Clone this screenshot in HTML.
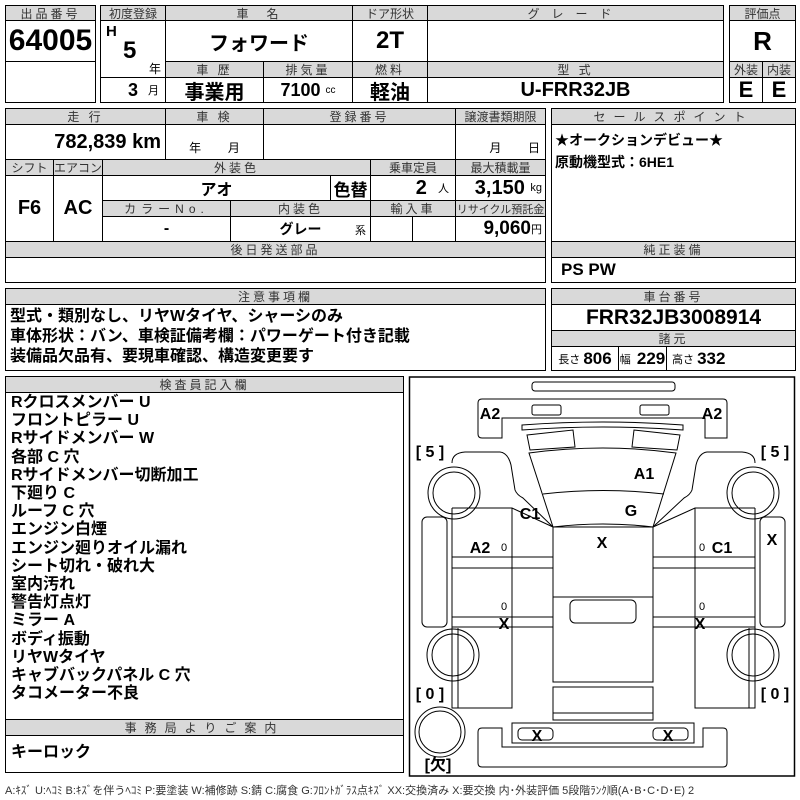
<!DOCTYPE html>
<html><head><meta charset="utf-8"><style>
body{margin:0;width:800px;height:800px;background:#fff;position:relative;overflow:hidden;font-family:"Liberation Sans","Noto Sans CJK JP",sans-serif;}
.c{position:absolute;box-sizing:border-box;border:1px solid #000;display:flex;align-items:center;justify-content:center;font-weight:bold;color:#000;white-space:nowrap;}
.h{background:#d9d9d9;font-weight:normal;font-size:12px;color:#333;letter-spacing:3px;}
.v{font-size:20px;}
.t{position:absolute;white-space:nowrap;font-weight:bold;}
</style></head><body>
<div class="c h" style="left:5px;top:5px;width:91px;height:16px">出品番号</div>
<div class="c" style="left:5px;top:20px;width:91px;height:42px;font-size:30px">64005</div>
<div class="c" style="left:5px;top:61px;width:91px;height:42px"></div>
<div class="c h" style="left:100px;top:5px;width:66px;height:16px;letter-spacing:0">初度登録</div>
<div class="c h" style="left:165px;top:5px;width:188px;height:16px">車　名</div>
<div class="c h" style="left:352px;top:5px;width:76px;height:16px;letter-spacing:0">ドア形状</div>
<div class="c h" style="left:427px;top:5px;width:297px;height:16px;letter-spacing:12px">グレード</div>
<div class="c" style="left:100px;top:20px;width:66px;height:58px"></div>
<div class="t" style="left:106px;top:23px;font-size:15px">H</div>
<div class="t" style="left:123px;top:37px;font-size:24px">5</div>
<div class="t" style="left:149px;top:60px;font-size:12px;font-weight:normal">年</div>
<div class="c v" style="left:165px;top:20px;width:188px;height:42px">フォワード</div>
<div class="c" style="left:352px;top:20px;width:76px;height:42px;font-size:24px">2T</div>
<div class="c" style="left:427px;top:20px;width:297px;height:42px"></div>
<div class="c h" style="left:165px;top:61px;width:99px;height:17px">車 歴</div>
<div class="c h" style="left:263px;top:61px;width:90px;height:17px">排気量</div>
<div class="c h" style="left:352px;top:61px;width:76px;height:17px">燃料</div>
<div class="c h" style="left:427px;top:61px;width:297px;height:17px">型 式</div>
<div class="c" style="left:100px;top:77px;width:66px;height:26px;font-size:18px;justify-content:flex-end;padding-right:6px">3&nbsp;&nbsp;<span style="font-size:11px;font-weight:normal">月</span></div>
<div class="c v" style="left:165px;top:77px;width:99px;height:26px">事業用</div>
<div class="c" style="left:263px;top:77px;width:90px;height:26px;font-size:18px">7100&nbsp;<span style="font-size:10px;font-weight:normal">cc</span></div>
<div class="c v" style="left:352px;top:77px;width:76px;height:26px">軽油</div>
<div class="c v" style="left:427px;top:77px;width:297px;height:26px">U-FRR32JB</div>
<div class="c h" style="left:729px;top:5px;width:67px;height:16px;letter-spacing:0">評価点</div>
<div class="c" style="left:729px;top:20px;width:67px;height:42px;font-size:26px">R</div>
<div class="c h" style="left:729px;top:61px;width:34px;height:17px;letter-spacing:0">外装</div>
<div class="c h" style="left:762px;top:61px;width:34px;height:17px;letter-spacing:0">内装</div>
<div class="c" style="left:729px;top:77px;width:34px;height:26px;font-size:22px">E</div>
<div class="c" style="left:762px;top:77px;width:34px;height:26px;font-size:22px">E</div>
<div class="c h" style="left:5px;top:108px;width:161px;height:17px">走 行</div>
<div class="c h" style="left:165px;top:108px;width:99px;height:17px">車 検</div>
<div class="c h" style="left:263px;top:108px;width:193px;height:17px">登録番号</div>
<div class="c h" style="left:455px;top:108px;width:91px;height:17px;letter-spacing:0">譲渡書類期限</div>
<div class="c" style="left:5px;top:124px;width:161px;height:36px;font-size:20px;justify-content:flex-end;padding-right:4px">782,839 km</div>
<div class="c" style="left:165px;top:124px;width:99px;height:36px;font-weight:normal;font-size:12px;align-items:flex-end;padding-bottom:3px">年&nbsp;&nbsp;&nbsp;&nbsp;&nbsp;&nbsp;&nbsp;&nbsp;月</div>
<div class="c" style="left:263px;top:124px;width:193px;height:36px"></div>
<div class="c" style="left:455px;top:124px;width:91px;height:36px;font-weight:normal;font-size:12px;align-items:flex-end;padding-bottom:3px;justify-content:flex-end;padding-right:5px">月&nbsp;&nbsp;&nbsp;&nbsp;&nbsp;&nbsp;&nbsp;&nbsp;日</div>
<div class="c h" style="left:5px;top:159px;width:49px;height:17px;letter-spacing:0">シフト</div>
<div class="c h" style="left:53px;top:159px;width:50px;height:17px;letter-spacing:0">エアコン</div>
<div class="c h" style="left:102px;top:159px;width:269px;height:17px">外装色</div>
<div class="c h" style="left:370px;top:159px;width:86px;height:17px;letter-spacing:0">乗車定員</div>
<div class="c h" style="left:455px;top:159px;width:91px;height:17px;letter-spacing:0">最大積載量</div>
<div class="c v" style="left:5px;top:175px;width:49px;height:67px">F6</div>
<div class="c v" style="left:53px;top:175px;width:50px;height:67px">AC</div>
<div class="c" style="left:102px;top:175px;width:229px;height:26px;font-size:16px">アオ</div>
<div class="c" style="left:330px;top:175px;width:41px;height:26px;font-size:17px">色替</div>
<div class="c" style="left:370px;top:175px;width:86px;height:26px;font-size:20px;justify-content:flex-end;padding-right:6px">2&nbsp;&nbsp;<span style="font-size:11px;font-weight:normal">人</span></div>
<div class="c" style="left:455px;top:175px;width:91px;height:26px;font-size:20px;justify-content:flex-end;padding-right:3px">3,150&nbsp;<span style="font-size:11px;font-weight:normal">kg</span></div>
<div class="c h" style="left:102px;top:200px;width:129px;height:17px;letter-spacing:5px">カラーNo.</div>
<div class="c h" style="left:230px;top:200px;width:141px;height:17px">内装色</div>
<div class="c h" style="left:370px;top:200px;width:86px;height:17px">輸入車</div>
<div class="c h" style="left:455px;top:200px;width:91px;height:17px;letter-spacing:0;font-size:11px">リサイクル預託金</div>
<div class="c" style="left:102px;top:216px;width:129px;height:26px;font-size:16px">-</div>
<div class="c" style="left:230px;top:216px;width:141px;height:26px;font-size:14px">グレー<span style="position:absolute;right:4px;bottom:3px;font-size:11px;font-weight:normal">系</span></div>
<div class="c" style="left:370px;top:216px;width:43px;height:26px"></div>
<div class="c" style="left:412px;top:216px;width:44px;height:26px"></div>
<div class="c" style="left:455px;top:216px;width:91px;height:26px;font-size:19px;justify-content:flex-end;padding-right:3px">9,060<span style="font-size:11px;font-weight:normal">円</span></div>
<div class="c h" style="left:5px;top:241px;width:541px;height:17px">後日発送部品</div>
<div class="c" style="left:5px;top:257px;width:541px;height:26px"></div>
<div class="c h" style="left:551px;top:108px;width:245px;height:17px;letter-spacing:8px">セールスポイント</div>
<div class="c" style="left:551px;top:124px;width:245px;height:118px;display:block;padding:4px 3px;font-size:14px;line-height:22px">★オークションデビュー★<br>原動機型式：6HE1</div>
<div class="c h" style="left:551px;top:241px;width:245px;height:17px">純正装備</div>
<div class="c" style="left:551px;top:257px;width:245px;height:26px;justify-content:flex-start;padding-left:9px;font-size:17px">PS PW</div>
<div class="c h" style="left:5px;top:288px;width:541px;height:17px">注意事項欄</div>
<div class="c" style="left:5px;top:304px;width:541px;height:67px;display:block;padding:2px 4px;font-size:16px;line-height:20px">型式・類別なし、リヤWタイヤ、シャーシのみ<br>車体形状：バン、車検証備考欄：パワーゲート付き記載<br>装備品欠品有、要現車確認、構造変更要す</div>
<div class="c h" style="left:551px;top:288px;width:245px;height:17px">車台番号</div>
<div class="c" style="left:551px;top:304px;width:245px;height:27px;font-size:21px">FRR32JB3008914</div>
<div class="c h" style="left:551px;top:330px;width:245px;height:17px">諸元</div>
<div class="c" style="left:551px;top:346px;width:68px;height:25px;font-size:17px"><span style="font-size:11px;font-weight:normal">長さ&nbsp;</span>806</div>
<div class="c" style="left:618px;top:346px;width:49px;height:25px;font-size:17px"><span style="font-size:11px;font-weight:normal">幅&nbsp;&nbsp;</span>229</div>
<div class="c" style="left:666px;top:346px;width:130px;height:25px;font-size:17px;justify-content:flex-start;padding-left:5px"><span style="font-size:11px;font-weight:normal">高さ&nbsp;</span>332</div>
<div class="c h" style="left:5px;top:376px;width:399px;height:17px">検査員記入欄</div>
<div class="c" style="left:5px;top:392px;width:399px;height:328px;display:block;padding:1px 5px;font-size:16px;line-height:18.2px">Rクロスメンバー U<br>フロントピラー U<br>Rサイドメンバー W<br>各部 C 穴<br>Rサイドメンバー切断加工<br>下廻り C<br>ルーフ C 穴<br>エンジン白煙<br>エンジン廻りオイル漏れ<br>シート切れ・破れ大<br>室内汚れ<br>警告灯点灯<br>ミラー A<br>ボディ振動<br>リヤWタイヤ<br>キャブバックパネル C 穴<br>タコメーター不良</div>
<div class="c h" style="left:5px;top:719px;width:399px;height:17px;letter-spacing:8px">事務局よりご案内</div>
<div class="c" style="left:5px;top:735px;width:399px;height:38px;display:block;padding:2px 5px;font-size:16px">キーロック</div>
<div class="t" style="left:5px;top:782px;font-size:11px;font-weight:normal;color:#333">A:ｷｽﾞ U:ﾍｺﾐ B:ｷｽﾞを伴うﾍｺﾐ P:要塗装 W:補修跡 S:錆 C:腐食 G:ﾌﾛﾝﾄｶﾞﾗｽ点ｷｽﾞ XX:交換済み X:要交換 内･外装評価 5段階ﾗﾝｸ順(A･B･C･D･E) 2</div>
<svg style="position:absolute;left:405px;top:375px" width="395" height="425" viewBox="0 0 395 425">
<g fill="none" stroke="#000" stroke-width="1">
<rect x="4.5" y="2" width="385" height="399" stroke-width="1.5"/>
<rect x="127" y="7" width="143" height="9" rx="3"/>
<path d="M77,24 H318 Q322,24 322,28 V63 H300 V43 H97 V63 H77 Q73,63 73,59 V28 Q73,24 77,24 Z"/>
<rect x="127" y="30" width="29" height="10" rx="2"/>
<rect x="235" y="30" width="29" height="10" rx="2"/>
<path d="M117,50 Q198,44 278,50 L278,55 Q198,49 117,55 Z"/>
<path d="M122,60 L168,55 L170,72 L125,75 Z"/>
<path d="M275,60 L229,55 L227,72 L272,75 Z"/>
<path d="M124,78 Q198,68 271,78 L248,152 Q198,146 148,152 Z"/>
<path d="M138,119 Q198,112 259,119"/>
<path d="M47,88 Q47,78 60,77 H95 Q103,78 106,90 L110,115 Q112,120 118,123 L148,152"/>
<path d="M350,88 Q350,78 337,77 H302 Q294,78 291,90 L287,115 Q285,120 279,123 L248,152"/>
<path d="M47,133 H107 L148,152"/>
<path d="M350,133 H290 L248,152"/>
<path d="M47,133 V333 H53 V253"/>
<path d="M350,133 V333 H344 V253"/>
<path d="M107,133 V333 H53"/>
<path d="M290,133 V333 H344"/>
<rect x="148" y="152" width="100" height="155"/>
<path d="M148,222 H248"/>
<rect x="165" y="225" width="66" height="23" rx="5"/>
<rect x="148" y="312" width="100" height="33"/>
<path d="M148,338 H248"/>
<path d="M47,182 H148 M47,193 H148 M47,242 H148 M47,252 H148"/>
<path d="M248,182 H350 M248,193 H350 M248,242 H350 M248,252 H350"/>
<rect x="17" y="142" width="25" height="110" rx="5"/>
<rect x="355" y="142" width="25" height="110" rx="5"/>
<circle cx="49" cy="118" r="26"/><circle cx="49" cy="118" r="21"/>
<circle cx="348" cy="118" r="26"/><circle cx="348" cy="118" r="21"/>
<circle cx="48" cy="280" r="26"/><circle cx="48" cy="280" r="21"/>
<circle cx="348" cy="280" r="26"/><circle cx="348" cy="280" r="21"/>
<circle cx="35" cy="357" r="25"/><circle cx="35" cy="357" r="21"/>
<path d="M77,353 H97 V372 H298 V353 H318 Q322,353 322,357 V388 Q322,392 318,392 H77 Q73,392 73,388 V357 Q73,353 77,353 Z"/>
<rect x="107" y="348" width="182" height="20"/>
<rect x="113" y="353" width="35" height="12" rx="4"/>
<rect x="248" y="353" width="35" height="12" rx="4"/>
</g>
<g font-family="Liberation Sans, sans-serif" font-weight="bold" font-size="16" text-anchor="middle" fill="#000">
<text x="85" y="44">A2</text><text x="307" y="44">A2</text>
<text x="239" y="104">A1</text><text x="226" y="141">G</text>
<text x="125" y="144">C1</text><text x="197" y="173">X</text>
<text x="75" y="178">A2</text><text x="317" y="178">C1</text><text x="367" y="170">X</text>
<text x="99" y="254">X</text><text x="295" y="254">X</text>
<text x="132" y="366">X</text><text x="263" y="366">X</text>
<text x="25" y="82">[ 5 ]</text><text x="370" y="82">[ 5 ]</text>
<text x="25" y="324">[ 0 ]</text><text x="370" y="324">[ 0 ]</text>
<text x="33" y="395" font-family="Liberation Sans, Noto Sans CJK JP, sans-serif">[欠]</text>
</g>
<g font-family="Liberation Sans, sans-serif" font-size="11" text-anchor="middle" fill="#000">
<text x="99" y="176">0</text><text x="297" y="176">0</text>
<text x="99" y="235">0</text><text x="297" y="235">0</text>
</g>
</svg>
</body></html>
